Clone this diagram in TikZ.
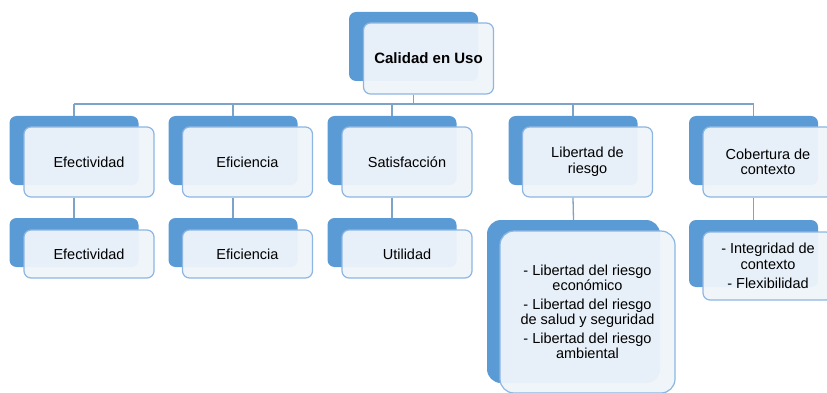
\documentclass[tikz,border=0pt]{standalone}
\usepackage{fontspec}
\setmainfont{Liberation Sans}
\usetikzlibrary{positioning}
\definecolor{backblue}{HTML}{5B9BD5}
\definecolor{frontfill}{HTML}{EFF4FA}
\definecolor{frontline}{HTML}{8DB6E2}
\definecolor{linkblue}{HTML}{7EA3C8}

\begin{document}
\begin{tikzpicture}[x=1pt,y=-1pt,
    back/.style={fill=backblue,rounded corners=7pt,minimum width=129pt,minimum height=69pt,inner sep=0pt},
    front/.style={fill=frontfill,fill opacity=0.95,text opacity=1,draw=frontline,line width=1.2pt,rounded corners=7pt,
      minimum width=130pt,minimum height=70pt,inner sep=0pt,align=center,font=\fontsize{14.5}{15.5}\selectfont},
    link/.style={draw=linkblue,line width=1.3pt}]
  \useasboundingbox (0,0) rectangle (827,393);
  % top
  \node[back] (calB) at (413.5,46.5) {};
  \node[front,minimum height=71pt,font=\fontsize{15}{16}\selectfont\bfseries] (cal) at (428.5,58.5) {Calidad en Uso};
  % second row
  \node[back] (efB) at (74,150.5) {};
  \node[front] (ef) at (89,162) {Efectividad};
  \node[back] (eiB) at (233,150.5) {};
  \node[front] (ei) at (247.5,162) {Eficiencia};
  \node[back] (saB) at (392,150.5) {};
  \node[front] (sa) at (407,162) {Satisfacción};
  \node[back] (liB) at (573,150.5) {};
  \node[front] (li) at (587.5,162) {Libertad de\\riesgo};
  \node[back] (coB) at (753.5,150.5) {};
  \node[front] (co) at (768,162) {Cobertura de\\contexto};
  % third row
  \node[back,minimum height=49pt] (ef3B) at (74,242.5) {};
  \node[front,minimum height=48pt] (ef3) at (89,254) {Efectividad};
  \node[back,minimum height=49pt] (ei3B) at (233,242.5) {};
  \node[front,minimum height=48pt] (ei3) at (247.5,254) {Eficiencia};
  \node[back,minimum height=49pt] (sa3B) at (392,242.5) {};
  \node[front,minimum height=48pt] (sa3) at (407,254) {Utilidad};
  \node[back,minimum width=173pt,minimum height=163pt,rounded corners=14pt] (li3B) at (573.5,301.5) {};
  \node[front,minimum width=175pt,minimum height=162pt,rounded corners=14pt] (li3) at (587.5,312)
    {- Libertad del riesgo\\económico\\[3pt]- Libertad del riesgo\\de salud y seguridad\\[3pt]- Libertad del riesgo\\ambiental};
  \node[back,minimum height=67pt] (co3B) at (753.5,253.5) {};
  \node[front,minimum height=68pt] (co3) at (768,266) {- Integridad de\\contexto\\[4pt]- Flexibilidad};
  % connectors
  \coordinate (bus) at (0,104);
  \draw[link] (calB |- cal.south) -- (calB |- bus);
  \draw[link] (efB |- bus) -- (coB |- bus);
  \foreach \n in {ef,ei,sa,li,co}
    \draw[link] (\n B |- bus) -- (\n B.north);
  \foreach \n in {ef,ei,sa,li,co}
    \draw[link] (\n B |- \n.south) -- (\n 3B.north);
\end{tikzpicture}
\end{document}
